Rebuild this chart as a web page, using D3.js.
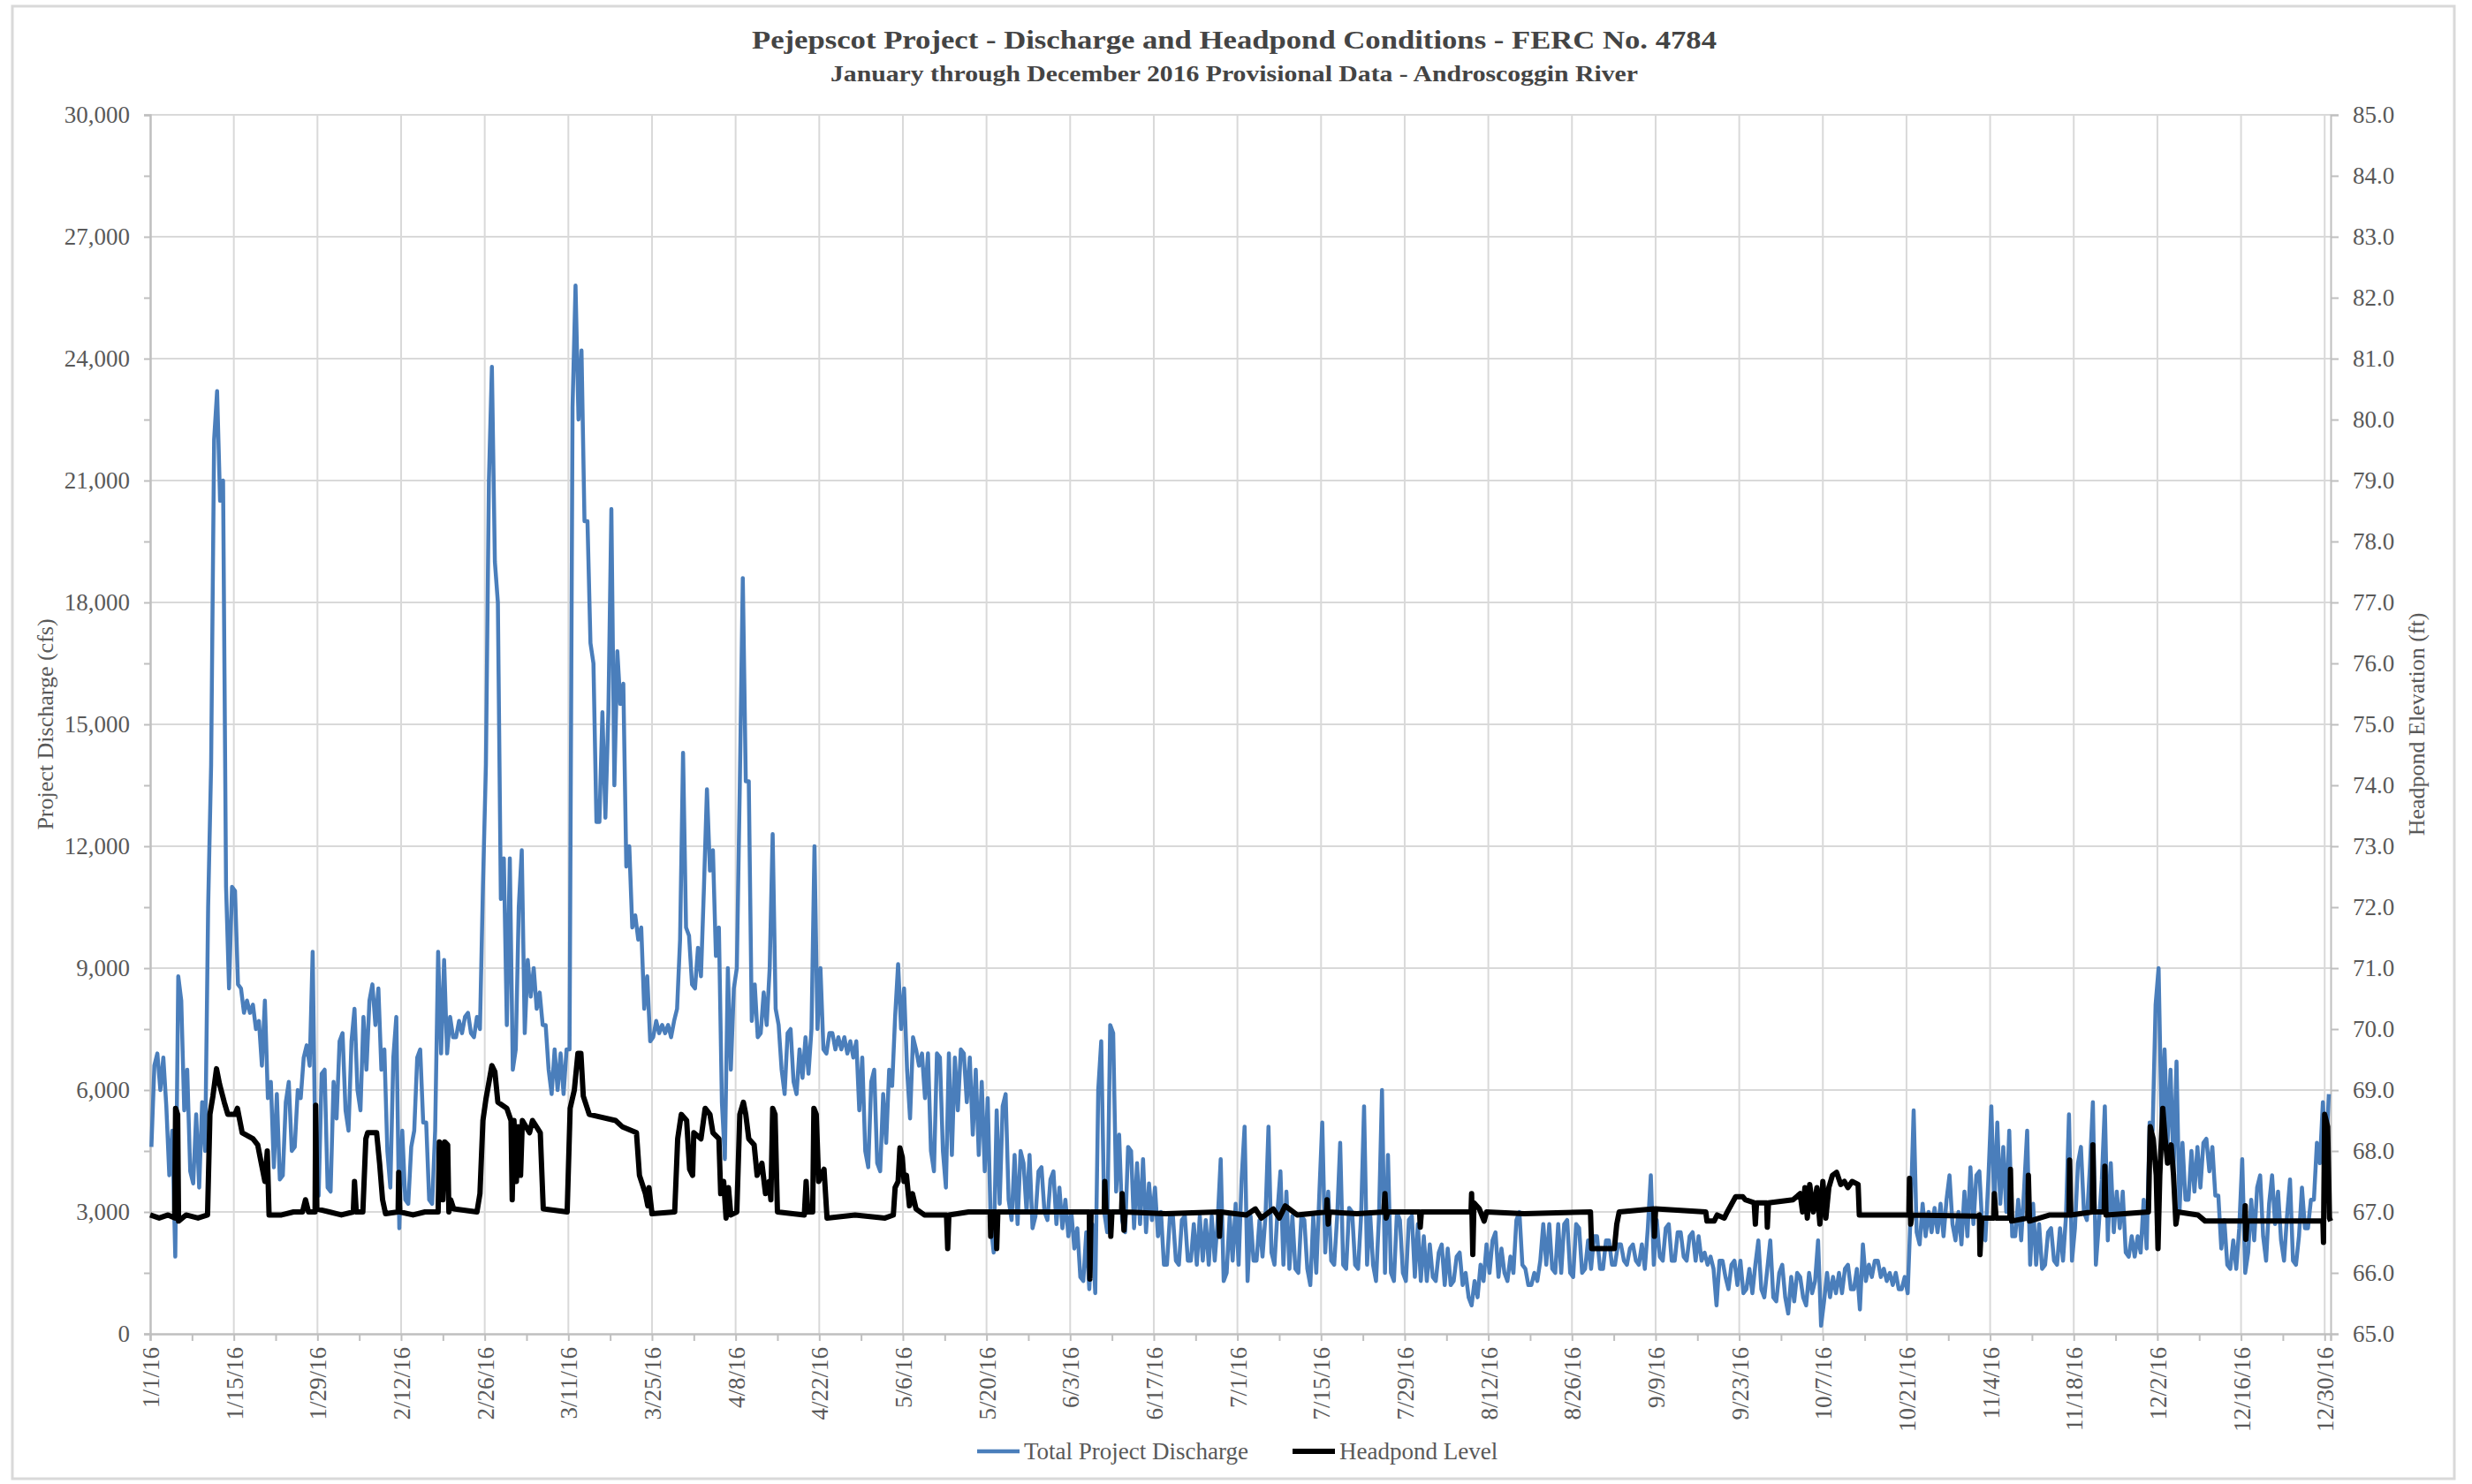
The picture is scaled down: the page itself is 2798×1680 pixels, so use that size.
<!DOCTYPE html>
<html>
<head>
<meta charset="utf-8">
<script src="https://cdn.jsdelivr.net/npm/d3@7"></script>
<style>
    body { margin: 0; background: #fff; }
    svg text { font-family: "Liberation Serif", "Times New Roman", serif; fill: #595959; }
</style>
</head>
<body>
<div id="viz"></div>
<script>

// daily low / high of total project discharge (cfs), day 0 = 1/1/16
var dischargeLow = [
    4600, 6000, 5600, 3900, 1900, 5500, 4000, 3700, 3600, 4500,
    14000, 20500, 11000, 8500, 8600, 7900, 7900, 7500, 6600, 5800,
    4100, 3800, 3900, 4500, 4600, 5800, 6600, 3800, 3400, 3600,
    3500, 5300, 5500, 5000, 6000, 5500, 6500, 7600, 6500, 4500,
    3600, 2600, 3300, 3200, 5000, 5200, 3300, 3200, 6900, 6900,
    7300, 7300, 7400, 7400, 7300, 7500, 14000, 19000, 10700, 7600,
    6500, 7000, 7400, 8300, 8000, 7600, 6500, 5900, 6000, 5900,
    7000, 22500, 20000, 17000, 12600, 12600, 12700, 13500, 15500, 11500,
    10000, 9700, 8000, 7200, 7300, 7400, 7400, 7300, 8000, 10000,
    8600, 8500, 8800, 11400, 9300, 5700, 4300, 6500, 9000, 13600,
    7700, 7300, 7400, 7600, 8000, 6500, 5900, 6200, 5900, 6300,
    6400, 7500, 7000, 6900, 7000, 7000, 6900, 6800, 5500, 4500,
    4100, 4200, 4000, 4700, 6100, 7500, 6500, 5300, 6600, 5800,
    4500, 4000, 4500, 3600, 4400, 5500, 5700, 4900, 4400, 4000,
    2700, 2000, 3200, 3300, 2800, 2700, 3000, 2600, 2900, 3000,
    2800, 2700, 2600, 2400, 2100, 1400, 1300, 1100, 1000, 3000,
    2500, 3500, 2800, 2500, 2600, 2700, 2500, 2800, 2400, 1700,
    1700, 1800, 1700, 1800, 1800, 1700, 1800, 1700, 1800, 1300,
    1500, 1800, 1700, 1300, 1800, 1800, 1900, 2000, 1700, 1700,
    1600, 1600, 1500, 1600, 1200, 1500, 2000, 1800, 1700, 1700,
    1600, 1700, 1600, 1700, 1700, 1300, 1500, 1500, 1300, 1500,
    1300, 1400, 1300, 1300, 1400, 1300, 1200, 1200, 1300, 1200,
    900, 700, 900, 1300, 1500, 1400, 1500, 1300, 1500, 1700,
    1200, 1200, 1300, 1700, 1600, 1500, 1500, 1500, 1400, 1500,
    1600, 1600, 1600, 1600, 1700, 1700, 1800, 1700, 1800, 1700,
    1600, 1700, 1900, 1800, 1800, 1800, 1900, 1800, 1800, 1800,
    1700, 1600, 700, 1400, 1100, 1200, 1000, 1100, 1000, 1100,
    900, 900, 800, 900, 500, 800, 900, 700, 1000, 200,
    800, 900, 1000, 1000, 1100, 1100, 600, 1300, 1400, 1400,
    1300, 1200, 1100, 1100, 1000, 2500, 2200, 2400, 2500, 2500,
    2400, 2700, 2300, 2200, 2400, 2700, 2600, 2300, 3100, 3200,
    3000, 2400, 2400, 2300, 1700, 1700, 1600, 1700, 1800, 1700,
    1800, 1800, 2600, 3000, 2800, 1700, 2700, 2300, 2500, 2600,
    2000, 1900, 1900, 2000, 2100, 5000, 5100, 4700, 4000, 3000,
    3300, 3300, 3500, 3600, 4000, 3400, 2100, 1700, 1600, 1600,
    1500, 2000, 2300, 2400, 1800, 2700, 2300, 1800, 1800, 1700,
    2600, 2600, 3300, 4200, 4300
];

var dischargeHigh = [
    6600, 6900, 6800, 5000, 8800, 8200, 6500, 5400, 5700, 10500,
    22000, 23200, 21000, 11000, 10900, 8500, 8200, 8100, 7700, 8200,
    6200, 5900, 5700, 6200, 6000, 6800, 7100, 9400, 6400, 6500,
    6200, 7200, 7400, 7200, 8000, 7800, 8200, 8600, 8500, 7000,
    6800, 7800, 5000, 4600, 6800, 7000, 5200, 5000, 9400, 9200,
    7800, 7700, 7800, 7900, 7800, 11000, 21000, 23800, 18000, 11700,
    11700, 10500, 11900, 9200, 9000, 8400, 7600, 7000, 6900, 7000,
    22800, 25800, 24200, 20000, 16500, 15300, 15300, 20300, 16800, 16000,
    12000, 10300, 10000, 8800, 7700, 7600, 7600, 7700, 9700, 14300,
    9800, 9500, 11000, 13400, 11900, 10000, 9000, 8500, 13500, 18600,
    13600, 8600, 8400, 9000, 12300, 7600, 7400, 7500, 7000, 7300,
    7500, 12000, 9000, 7400, 7400, 7300, 7300, 7200, 7200, 6800,
    6200, 6500, 5900, 6500, 7800, 9100, 8500, 7300, 7000, 6900,
    6900, 6900, 6800, 6900, 6800, 7000, 6900, 6800, 6500, 6200,
    5800, 5500, 5600, 5900, 4400, 4500, 4200, 4400, 4000, 4100,
    3800, 4000, 3600, 3300, 3000, 2600, 2500, 2700, 6000, 7200,
    7600, 7400, 4900, 4600, 4500, 4200, 4300, 3700, 3600, 3000,
    2900, 2900, 2800, 2900, 2700, 2900, 2800, 2900, 2800, 4300,
    2900, 3200, 3800, 5100, 2900, 2800, 2900, 5100, 3000, 4000,
    3500, 2900, 2900, 2800, 2900, 3400, 5200, 3500, 2900, 4700,
    3100, 3000, 2900, 5600, 3000, 2900, 6000, 4400, 3000, 2800,
    2800, 2900, 2700, 2400, 2200, 2000, 2200, 2100, 1900, 2000,
    1500, 1300, 1700, 2200, 2300, 2500, 2100, 1900, 2800, 3000,
    1600, 1500, 1800, 2700, 2700, 2700, 2700, 2800, 2700, 2600,
    2300, 2400, 2400, 2300, 2300, 2200, 2200, 2100, 2200, 2200,
    2600, 3900, 2800, 2600, 2700, 2500, 2500, 2400, 2500, 2400,
    2000, 1900, 1800, 1800, 1700, 1800, 1800, 1600, 1700, 2300,
    1600, 2300, 1500, 1700, 1400, 1500, 1400, 1500, 1300, 2300,
    1500, 1400, 1500, 1600, 1700, 1600, 2200, 1700, 1800, 1800,
    1600, 1500, 1500, 1400, 3000, 5500, 3200, 3000, 3100, 3200,
    3300, 3900, 3000, 3500, 4100, 3900, 4000, 3800, 5600, 5200,
    4600, 5000, 3300, 3600, 5000, 3200, 2700, 2500, 2600, 2600,
    2900, 5400, 4200, 4600, 4100, 5700, 3800, 5600, 4200, 3500,
    3500, 2400, 2400, 3300, 5200, 8100, 9000, 7000, 6500, 6700,
    4700, 4500, 4600, 4700, 4800, 4600, 3400, 2800, 2300, 2600,
    4300, 3300, 3600, 3900, 3200, 3900, 3500, 2900, 3800, 2400,
    3600, 3300, 4700, 5700, 5900
];

// headpond level (ft) as [day, elevation] breakpoints
var headpond = [
    [0, 66.95], [1.5, 66.9], [3, 66.95], [4.1, 66.9], [4.25, 68.7], [4.6, 68.6], [4.75, 66.85], [6, 66.95],
    [8, 66.9], [9.6, 66.95], [10.0, 68.6], [10.5, 68.9], [11.1, 69.35], [11.6, 69.1], [12.4, 68.8], [13, 68.6],
    [14.2, 68.6], [14.6, 68.7], [15.4, 68.3], [17.2, 68.2], [18, 68.1], [18.6, 67.8], [19.2, 67.5], [19.6, 68.0],
    [19.9, 66.95], [22, 66.95], [24, 67.0], [25.5, 67.0], [26, 67.2], [26.5, 67.0], [27.6, 67.0], [27.7, 68.75],
    [27.9, 67.05], [30, 67.0], [32, 66.95], [34, 67.0], [34.2, 67.5], [34.5, 67.0], [35.6, 67.0], [36.1, 68.2],
    [36.4, 68.3], [37.9, 68.3], [38.4, 67.8], [38.9, 67.2], [39.4, 66.97], [41.5, 67.0], [41.6, 67.65], [41.8, 67.0],
    [44, 66.95], [46, 67.0], [48.2, 67.0], [48.4, 68.15], [48.8, 68.1], [49.0, 67.2], [49.3, 68.15], [49.8, 68.1],
    [50.0, 67.0], [50.3, 67.2], [50.8, 67.05], [54.7, 67.0], [55.2, 67.3], [55.7, 68.5], [56.2, 68.85], [57.2, 69.4],
    [57.7, 69.3], [58.2, 68.8], [59.7, 68.7], [60.4, 68.5], [60.6, 67.2], [60.9, 68.5], [61.3, 67.5], [61.6, 68.4],
    [62.0, 67.6], [62.3, 68.5], [63.5, 68.3], [64.0, 68.5], [65.3, 68.3], [65.8, 67.05], [69.8, 67.0], [70.3, 68.7],
    [71.0, 69.0], [71.6, 69.6], [72.1, 69.6], [72.5, 68.9], [73.5, 68.6], [77.9, 68.5], [79, 68.4], [81.4, 68.3],
    [81.9, 67.6], [82.9, 67.3], [83.3, 67.1], [83.5, 67.4], [84, 66.97], [87.8, 67.0], [88.3, 68.2], [88.9, 68.6],
    [89.8, 68.5], [90.3, 67.7], [90.8, 67.6], [91.0, 68.3], [92.2, 68.2], [92.9, 68.7], [93.7, 68.6], [94.2, 68.3],
    [95.2, 68.2], [95.5, 67.3], [96, 67.5], [96.4, 66.9], [96.8, 67.4], [97.2, 66.95], [98.2, 67.0], [98.7, 68.6],
    [99.3, 68.8], [99.7, 68.6], [100.2, 68.2], [101.1, 68.1], [101.6, 67.6], [102.4, 67.8], [103.0, 67.3], [103.6, 67.5],
    [103.9, 67.2], [104.2, 68.7], [104.6, 68.6], [105.0, 67.0], [109.5, 66.95], [109.8, 67.5], [110.1, 67.0], [110.9, 67.0],
    [111.1, 68.7], [111.5, 68.6], [111.9, 67.5], [112.8, 67.7], [113.3, 66.9], [118, 66.95], [123, 66.9], [124.4, 66.95],
    [124.7, 67.4], [125.2, 67.5], [125.5, 68.05], [125.9, 67.9], [126.2, 67.5], [126.6, 67.6], [127.1, 67.1], [127.6, 67.3],
    [128.2, 67.05], [129.6, 66.95], [133.3, 66.95], [133.5, 66.4], [133.7, 66.95], [137, 67.0], [140.6, 67.0], [140.7, 66.6],
    [140.9, 67.0], [141.6, 67.0], [141.7, 66.4], [141.9, 67.0], [150, 67.0], [157.2, 67.0], [157.3, 65.9], [157.5, 67.0],
    [159.7, 67.0], [159.8, 67.5], [160.0, 67.0], [160.7, 67.0], [160.8, 66.6], [161.0, 67.0], [162.6, 67.0], [162.7, 67.3],
    [163.0, 66.7], [163.2, 67.0], [170, 66.97], [178.9, 67.0], [179.0, 66.6], [179.2, 67.0], [183.5, 66.95], [185, 67.05],
    [186, 66.9], [188, 67.05], [189, 66.9], [190, 67.1], [192, 66.95], [196.9, 67.0], [197.0, 67.2], [197.2, 66.8],
    [197.4, 67.0], [202, 66.97], [206.5, 67.0], [206.7, 67.3], [206.9, 66.9], [207.2, 67.0], [212.5, 67.0], [212.6, 66.75],
    [212.8, 67.0], [221.1, 67.0], [221.2, 67.3], [221.4, 66.3], [221.6, 67.15], [222.5, 67.05], [223.3, 66.85], [223.7, 67.0],
    [230, 66.97], [241.1, 67.0], [241.3, 66.4], [245.1, 66.4], [245.5, 66.8], [245.9, 67.0], [251.7, 67.05], [251.8, 66.6],
    [252.0, 67.05], [260.4, 67.0], [260.6, 66.85], [261.8, 66.85], [262.3, 66.95], [263.5, 66.9], [264.0, 67.0], [265.4, 67.25],
    [266.6, 67.25], [267.0, 67.2], [268.5, 67.15], [268.7, 66.8], [268.9, 67.15], [270.6, 67.15], [270.7, 66.75], [270.9, 67.15],
    [275, 67.2], [276.2, 67.3], [276.6, 67.0], [277, 67.4], [277.4, 66.9], [277.8, 67.45], [278.4, 67.0], [279, 67.4],
    [279.5, 66.8], [280, 67.5], [280.5, 66.9], [281.0, 67.4], [281.6, 67.6], [282.3, 67.65], [283.0, 67.45], [283.6, 67.5],
    [284.2, 67.4], [284.9, 67.5], [285.9, 67.45], [286.1, 66.95], [294.4, 66.95], [294.5, 67.55], [294.7, 66.8], [294.9, 66.95],
    [305.8, 66.93], [306.2, 66.95], [306.3, 66.3], [306.6, 66.9], [308.6, 66.9], [308.7, 67.3], [309.0, 66.9], [311.3, 66.9],
    [311.4, 67.7], [311.6, 66.85], [314.3, 66.9], [314.4, 67.6], [314.6, 66.85], [318, 66.95], [321.2, 66.95], [321.3, 67.85],
    [321.5, 66.95], [325.1, 67.0], [325.2, 68.1], [325.4, 67.0], [327.1, 67.0], [327.2, 67.75], [327.4, 66.95], [334.5, 67.0],
    [334.8, 68.4], [335.3, 68.2], [335.8, 67.6], [336.1, 66.4], [336.4, 67.6], [336.9, 68.7], [337.3, 68.2], [337.7, 67.8],
    [338.3, 68.1], [338.7, 67.6], [339.1, 66.8], [339.4, 67.0], [342.8, 66.95], [344, 66.85], [350.6, 66.85], [350.7, 67.1],
    [350.8, 66.55], [351.0, 66.85], [363.7, 66.85], [363.8, 66.5], [364.0, 68.6], [364.5, 68.4], [364.8, 66.9], [365.0, 66.85]
];

var dischargeTicks = d3.range(0, 30001, 3000);
var elevationTicks = d3.range(65, 85.01, 1);

const width = 2798;
const height = 1680;
const plotLeft = 170, plotRight = 2638, plotTop = 130, plotBottom = 1510;

const start = new Date(2016, 0, 1);
const end = new Date(2016, 11, 31);
function dayToDate(d) {
    return new Date(start.getTime() + d * 864e5);
}
const dateTicks = d3.timeDay.range(start, new Date(2016, 11, 31, 12), 14);
const weekTicks = d3.timeDay.range(new Date(2016, 0, 8), end, 14);

const x = d3.scaleTime().domain([start, end]).range([plotLeft, plotRight]);
const yQ = d3.scaleLinear().domain([0, 30000]).range([plotBottom, plotTop]);
const yH = d3.scaleLinear().domain([65, 85]).range([plotBottom, plotTop]);

const svg = d3.select("#viz")
    .append("svg")
    .attr("width", width)
    .attr("height", height);

svg.append("rect")
    .attr("x", 14).attr("y", 7)
    .attr("width", 2764).attr("height", 1667)
    .attr("fill", "white")
    .attr("stroke", "#d9d9d9")
    .attr("stroke-width", 3);

// gridlines
const grid = svg.append("g").attr("stroke", "#d9d9d9").attr("stroke-width", 2);
grid.selectAll(".h")
    .data(dischargeTicks.slice(1))
    .join("line")
    .attr("class", "h")
    .attr("x1", plotLeft).attr("x2", plotRight)
    .attr("y1", d => yQ(d)).attr("y2", d => yQ(d));
grid.selectAll(".v")
    .data(dateTicks.slice(1))
    .join("line")
    .attr("class", "v")
    .attr("x1", d => x(d)).attr("x2", d => x(d))
    .attr("y1", plotTop).attr("y2", plotBottom);

function styleAxis(g) {
    g.select(".domain").attr("stroke", "#bfbfbf").attr("stroke-width", 2);
    g.selectAll(".tick line").attr("stroke", "#bfbfbf").attr("stroke-width", 2);
    g.selectAll("text").attr("font-size", 27).attr("fill", "#595959")
        .attr("font-family", "Liberation Serif, Times New Roman, serif");
}

// left axis
svg.append("g")
    .attr("transform", `translate(${plotLeft},0)`)
    .call(d3.axisLeft(yQ).tickValues(d3.range(1500, 30000, 3000)).tickSize(7).tickFormat(""))
    .call(styleAxis);
svg.append("g")
    .attr("transform", `translate(${plotLeft},0)`)
    .call(d3.axisLeft(yQ).tickValues(dischargeTicks).tickSize(7).tickPadding(16).tickFormat(d3.format(",")))
    .call(styleAxis);

// right axis
svg.append("g")
    .attr("transform", `translate(${plotRight},0)`)
    .call(d3.axisRight(yH).tickValues(elevationTicks).tickSize(9).tickPadding(16).tickFormat(d3.format(".1f")))
    .call(styleAxis);

// bottom axis
svg.append("g")
    .attr("transform", `translate(0,${plotBottom})`)
    .call(d3.axisBottom(x).tickValues(weekTicks).tickSize(8).tickFormat(""))
    .call(styleAxis);
const xAxis = svg.append("g")
    .attr("transform", `translate(0,${plotBottom})`)
    .call(d3.axisBottom(x).tickValues(dateTicks).tickSize(8).tickFormat(d3.timeFormat("%-m/%-d/%y")))
    .call(styleAxis);
xAxis.selectAll("text")
    .attr("transform", "rotate(-90)")
    .attr("text-anchor", "end")
    .attr("x", -15)
    .attr("y", 0)
    .attr("dy", "0.35em");

// discharge: draw each day from low to high (or high to low when falling)
const dischargePts = [];
dischargeLow.forEach(function (lo, i) {
    var hi = dischargeHigh[i];
    var mean = (lo + hi) / 2;
    var next = i < dischargeLow.length - 1 ? (dischargeLow[i + 1] + dischargeHigh[i + 1]) / 2 : mean;
    var first = next >= mean ? lo : hi;
    var second = next >= mean ? hi : lo;
    dischargePts.push([dayToDate(i + 0.2), first]);
    dischargePts.push([dayToDate(i + 0.7), second]);
});

const dischargeLine = d3.line()
    .x(d => x(d[0]))
    .y(d => yQ(d[1]));

svg.append("path")
    .datum(dischargePts)
    .attr("fill", "none")
    .attr("stroke", "#4a7ebb")
    .attr("stroke-width", 4.5)
    .attr("stroke-linejoin", "round")
    .attr("d", dischargeLine);

const headLine = d3.line()
    .x(d => x(dayToDate(d[0])))
    .y(d => yH(d[1]));

svg.append("path")
    .datum(headpond)
    .attr("fill", "none")
    .attr("stroke", "black")
    .attr("stroke-width", 6)
    .attr("stroke-linejoin", "round")
    .attr("d", headLine);

// titles
svg.append("text")
    .attr("x", 1397).attr("y", 55)
    .attr("text-anchor", "middle")
    .attr("font-size", 30).attr("font-weight", "bold")
    .attr("textLength", 1092).attr("lengthAdjust", "spacingAndGlyphs")
    .style("fill", "#444")
    .text("Pejepscot Project - Discharge and Headpond Conditions - FERC No. 4784");

svg.append("text")
    .attr("x", 1397).attr("y", 92)
    .attr("text-anchor", "middle")
    .attr("font-size", 25).attr("font-weight", "bold")
    .attr("textLength", 914).attr("lengthAdjust", "spacingAndGlyphs")
    .style("fill", "#444")
    .text("January through December 2016 Provisional Data - Androscoggin River");

svg.append("text")
    .attr("transform", "translate(60,820) rotate(-90)")
    .attr("text-anchor", "middle")
    .attr("font-size", 26)
    .text("Project Discharge (cfs)");

svg.append("text")
    .attr("transform", "translate(2744,820) rotate(-90)")
    .attr("text-anchor", "middle")
    .attr("font-size", 26)
    .text("Headpond Elevation (ft)");

// legend
const legend = svg.append("g").attr("transform", "translate(0,1643)");
const legendItems = [
    { name: "Total Project Discharge", color: "#4a7ebb", x: 1106, w: 4.5 },
    { name: "Headpond Level", color: "black", x: 1463, w: 6 }
];
legend.selectAll("line")
    .data(legendItems)
    .join("line")
    .attr("x1", d => d.x).attr("x2", d => d.x + 48)
    .attr("y1", 0).attr("y2", 0)
    .attr("stroke", d => d.color)
    .attr("stroke-width", d => d.w);
legend.selectAll("text")
    .data(legendItems)
    .join("text")
    .attr("x", d => d.x + 53)
    .attr("y", 9)
    .attr("font-size", 27)
    .text(d => d.name);

</script>
</body>
</html>
